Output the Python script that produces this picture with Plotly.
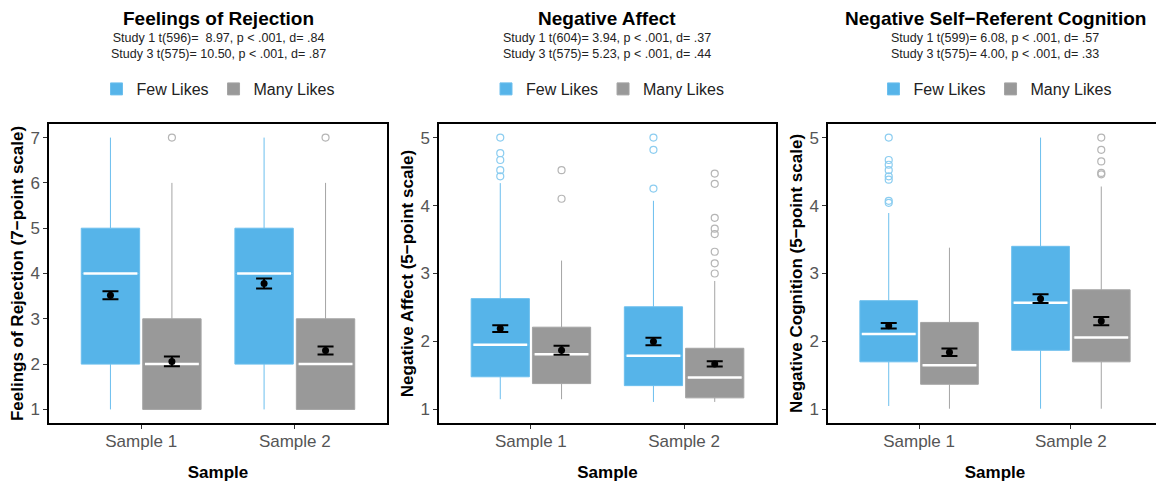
import plotly.graph_objects as go

samples = ["Sample 1", "Sample 2"]
group_names = ["Few Likes", "Many Likes"]

# ---------- Panel 1: Feelings of Rejection ----------
rej_few_q1 = [2, 2]
rej_few_med = [4, 4]
rej_few_q3 = [5, 5]
rej_few_lo = [1, 1]
rej_few_hi = [7, 7]
rej_few_mean = [3.52, 3.78]
rej_few_se = [0.09, 0.11]
rej_few_out1 = []
rej_few_out2 = []

rej_many_q1 = [1, 1]
rej_many_med = [2, 2]
rej_many_q3 = [3, 3]
rej_many_lo = [1, 1]
rej_many_hi = [6, 6]
rej_many_mean = [2.06, 2.30]
rej_many_se = [0.11, 0.09]
rej_many_out1 = [7]
rej_many_out2 = [7]

# ---------- Panel 2: Negative Affect ----------
aff_few_q1 = [1.48, 1.35]
aff_few_med = [1.95, 1.79]
aff_few_q3 = [2.63, 2.51]
aff_few_lo = [1.15, 1.11]
aff_few_hi = [4.33, 4.07]
aff_few_mean = [2.19, 2.00]
aff_few_se = [0.05, 0.055]
aff_few_out1 = [5.0, 4.77, 4.67, 4.52, 4.43]
aff_few_out2 = [5.0, 4.82, 4.25]

aff_many_q1 = [1.38, 1.17]
aff_many_med = [1.81, 1.47]
aff_many_q3 = [2.21, 1.90]
aff_many_lo = [1.15, 1.11]
aff_many_hi = [3.19, 2.89]
aff_many_mean = [1.87, 1.67]
aff_many_se = [0.065, 0.04]
aff_many_out1 = [4.52, 4.10]
aff_many_out2 = [4.47, 4.32, 3.82, 3.66, 3.58, 3.32, 3.15, 3.00]

# ---------- Panel 3: Negative Self-Referent Cognition ----------
cog_few_q1 = [1.70, 1.87]
cog_few_med = [2.11, 2.57]
cog_few_q3 = [2.60, 3.40]
cog_few_lo = [1.05, 1.01]
cog_few_hi = [3.89, 5.0]
cog_few_mean = [2.23, 2.63]
cog_few_se = [0.04, 0.065]
cog_few_out1 = [5.0, 4.67, 4.60, 4.52, 4.43, 4.38, 4.07, 4.04]
cog_few_out2 = []

cog_many_q1 = [1.37, 1.70]
cog_many_med = [1.65, 2.06]
cog_many_q3 = [2.28, 2.76]
cog_many_lo = [1.01, 1.01]
cog_many_hi = [3.38, 4.28]
cog_many_mean = [1.84, 2.30]
cog_many_se = [0.055, 0.06]
cog_many_out1 = []
cog_many_out2 = [5.0, 4.82, 4.65, 4.48, 4.46]

titles = ["Feelings of Rejection", "Negative Affect", "Negative Self\u2212Referent Cognition"]
subtitles = [
    ["Study 1 t(596)=\u00a0 8.97, p < .001, d= .84", "Study 3 t(575)= 10.50, p < .001, d= .87"],
    ["Study 1 t(604)= 3.94, p < .001, d= .37", "Study 3 t(575)= 5.23, p < .001, d= .44"],
    ["Study 1 t(599)= 6.08, p < .001, d= .57", "Study 3 t(575)= 4.00, p < .001, d= .33"],
]
ytitles = ["Feelings of Rejection (7\u2212point scale)",
           "Negative Affect (5\u2212point scale)",
           "Negative Cognition (5\u2212point scale)"]
yranges = [[0.7, 7.3], [0.8, 5.2], [0.8, 5.2]]
ytickvals = [[1, 2, 3, 4, 5, 6, 7], [1, 2, 3, 4, 5], [1, 2, 3, 4, 5]]

panel_data = [
    {"Few Likes": (rej_few_q1, rej_few_med, rej_few_q3, rej_few_lo, rej_few_hi, rej_few_mean, rej_few_se, rej_few_out1, rej_few_out2),
     "Many Likes": (rej_many_q1, rej_many_med, rej_many_q3, rej_many_lo, rej_many_hi, rej_many_mean, rej_many_se, rej_many_out1, rej_many_out2)},
    {"Few Likes": (aff_few_q1, aff_few_med, aff_few_q3, aff_few_lo, aff_few_hi, aff_few_mean, aff_few_se, aff_few_out1, aff_few_out2),
     "Many Likes": (aff_many_q1, aff_many_med, aff_many_q3, aff_many_lo, aff_many_hi, aff_many_mean, aff_many_se, aff_many_out1, aff_many_out2)},
    {"Few Likes": (cog_few_q1, cog_few_med, cog_few_q3, cog_few_lo, cog_few_hi, cog_few_mean, cog_few_se, cog_few_out1, cog_few_out2),
     "Many Likes": (cog_many_q1, cog_many_med, cog_many_q3, cog_many_lo, cog_many_hi, cog_many_mean, cog_many_se, cog_many_out1, cog_many_out2)},
]

fill_col = {"Few Likes": "#56B4E9", "Many Likes": "#999999"}
line_col = {"Few Likes": "#6cbfee", "Many Likes": "#a4a4a4"}
out_col = {"Few Likes": "#8ccdf0", "Many Likes": "#b5b5b5"}
offs = {"Few Likes": "few", "Many Likes": "many"}

W, H = 1164, 485
OFF = 8  # page body margin compensation
x_dom_px = [(49, 387), (439, 776), (828, 1162)]
y_dom_px = (124, 423)
FONT = "Liberation Sans, Arial, sans-serif"


def px(v):
    return v - OFF


fig = go.Figure()
for i in range(3):
    sfx = "" if i == 0 else str(i + 1)
    xa, ya = "x" + sfx, "y" + sfx
    leg = "legend" + sfx
    for g in group_names:
        q1, med, q3, lo, hi, mean, se, out1, out2 = panel_data[i][g]
        fig.add_trace(go.Box(
            x=samples, q1=q1, median=med, q3=q3, lowerfence=lo, upperfence=hi,
            name=g, fillcolor=fill_col[g], line=dict(color=line_col[g], width=1),
            whiskerwidth=0, boxpoints=False, offsetgroup=offs[g],
            xaxis=xa, yaxis=ya, legend=leg, showlegend=True))
    for g in group_names:
        q1, med, q3, lo, hi, mean, se, out1, out2 = panel_data[i][g]
        fig.add_trace(go.Scatter(
            x=samples, y=med, mode="markers", offsetgroup=offs[g],
            marker=dict(symbol="line-ew", size=38.5, line=dict(color="white", width=2.5)),
            xaxis=xa, yaxis=ya, showlegend=False, hoverinfo="skip"))
        ox = [samples[0]] * len(out1) + [samples[1]] * len(out2)
        fig.add_trace(go.Scatter(
            x=ox, y=out1 + out2, mode="markers", offsetgroup=offs[g],
            marker=dict(symbol="circle-open", size=7, color=out_col[g], line=dict(width=1.2)),
            xaxis=xa, yaxis=ya, showlegend=False))
        fig.add_trace(go.Scatter(
            x=samples, y=mean, mode="markers", offsetgroup=offs[g],
            marker=dict(symbol="circle", size=7, color="black"),
            error_y=dict(type="data", array=se, color="black", thickness=2, width=8),
            xaxis=xa, yaxis=ya, showlegend=False))

    x0, x1 = x_dom_px[i]
    xc = (px(x0) + px(x1)) / 2 / W
    fig.update_layout({
        "xaxis" + sfx: dict(
            domain=[px(x0) / W, px(x1) / W], anchor=ya, type="category", automargin=False,
            range=[-0.6, 1.6],
            showline=True, mirror=True, linecolor="black", linewidth=1.5,
            ticks="outside", ticklen=4, tickcolor="#333333", tickwidth=1,
            ticklabelstandoff=-2,
            tickfont=dict(family=FONT, size=17, color="#555555"),
            showgrid=False, zeroline=False,
            title=dict(text="<b>Sample</b>", font=dict(family=FONT, size=17, color="black"), standoff=16)),
        "yaxis" + sfx: dict(
            domain=[1 - px(y_dom_px[1]) / H, 1 - px(y_dom_px[0]) / H], anchor=xa, automargin=False,
            range=yranges[i], tickvals=ytickvals[i],
            showline=True, mirror=True, linecolor="black", linewidth=1.5,
            ticks="outside", ticklen=4, tickcolor="#333333", tickwidth=1,
            tickfont=dict(family=FONT, size=17, color="#555555"),
            showgrid=False, zeroline=False,
            title=dict(text="<b>" + ytitles[i] + "</b>", font=dict(family=FONT, size=17, color="black"), standoff=2)),
        leg: dict(orientation="h", x=xc, xanchor="center", y=1 - px(89) / H, yanchor="middle",
                  font=dict(family=FONT, size=16, color="#222222"), bgcolor="rgba(0,0,0,0)",
                  itemwidth=30, tracegroupgap=0),
    })
    fig.add_annotation(text="<b>" + titles[i] + "</b>", x=xc, y=1 - px(18) / H, xref="paper", yref="paper",
                       showarrow=False, xanchor="center", yanchor="middle",
                       font=dict(family=FONT, size=19, color="black"))
    fig.add_annotation(text=subtitles[i][0] + "<br>" + subtitles[i][1], x=xc, y=1 - px(46.5) / H,
                       xref="paper", yref="paper", showarrow=False, xanchor="center", yanchor="middle",
                       font=dict(family=FONT, size=12.5, color="#222222"))

fig.update_layout(
    template="none",
    width=W, height=H, margin=dict(l=0, r=0, t=0, b=0),
    paper_bgcolor="white", plot_bgcolor="white",
    boxmode="group", boxgap=0.2, boxgroupgap=0.05,
    scattermode="group", scattergap=0.2,
    font=dict(family=FONT),
)

fig.write_html("out.html")
